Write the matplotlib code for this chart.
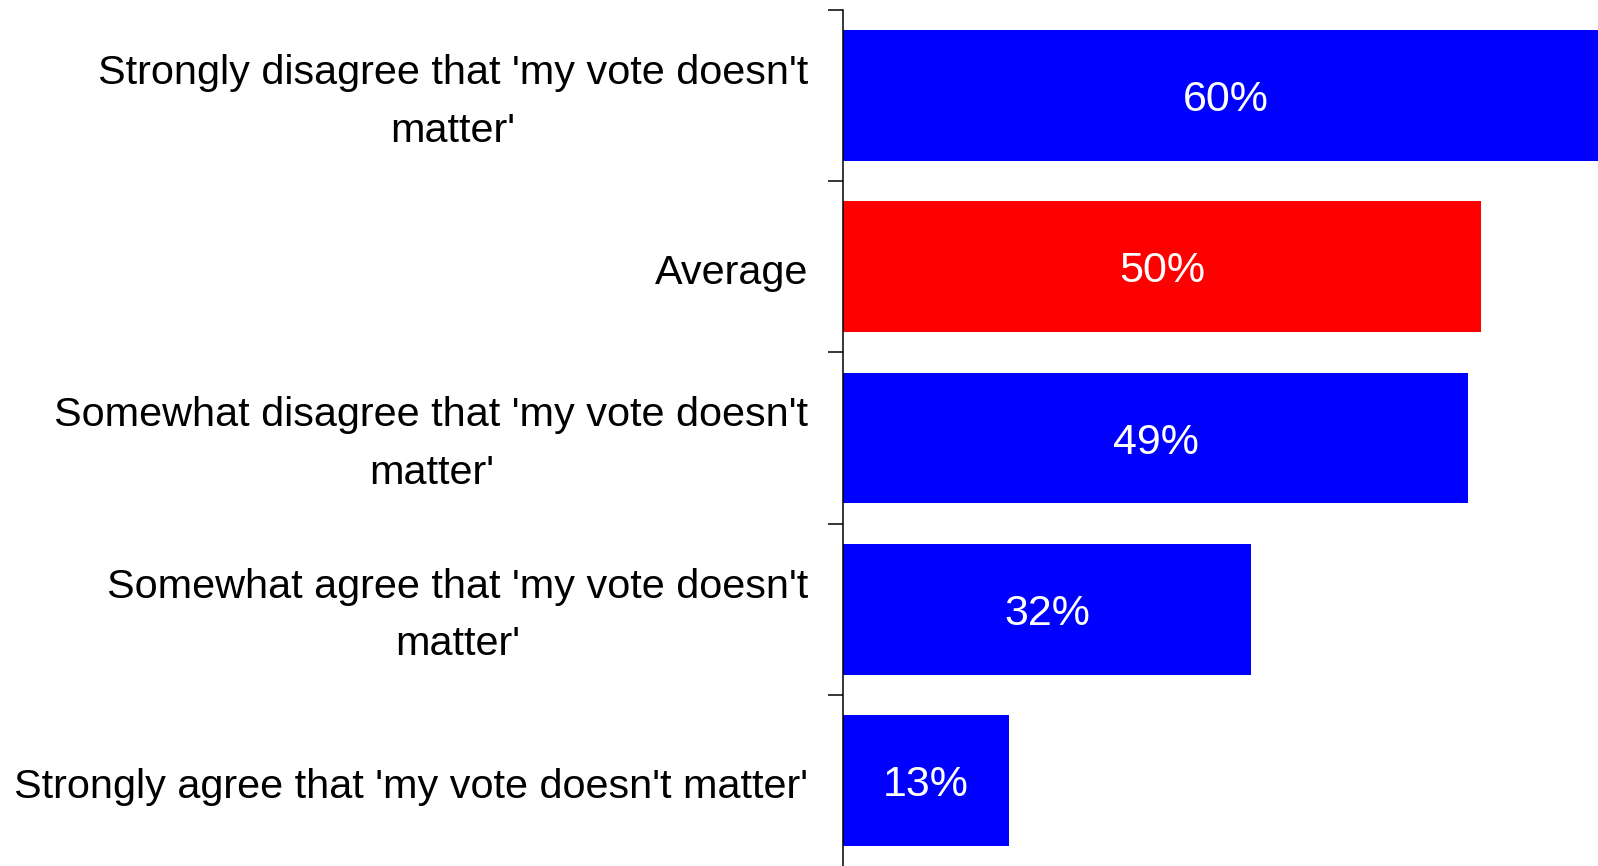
import matplotlib
matplotlib.use("Agg")
import matplotlib.pyplot as plt

plt.rcParams['font.family'] = ['Liberation Sans', 'DejaVu Sans']

# datos (de arriba a abajo)
categorias = [
    "Strongly disagree that 'my vote doesn't\nmatter'",
    "Average",
    "Somewhat disagree that 'my vote doesn't\nmatter'",
    "Somewhat agree that 'my vote doesn't\nmatter'",
    "Strongly agree that 'my vote doesn't matter'",
]
valores = [60, 50, 49, 32, 13]
etiquetas = ["60%", "50%", "49%", "32%", "13%"]
colores = ["#0000ff", "#ff0000", "#0000ff", "#0000ff", "#0000ff"]

fig = plt.figure(figsize=(15.98, 8.66), dpi=100)
ax = fig.add_axes([843 / 1598, 0.0, 1 - 843 / 1598, 1 - 10 / 866])

posiciones = list(range(len(categorias)))
ax.barh(posiciones, valores, height=0.765, color=colores)

for p, v, t in zip(posiciones, valores, etiquetas):
    ax.text(v / 2, p, t, color="white", fontsize=31, ha="center", va="center_baseline")

ax.set_xlim(0, 59.2)
ax.set_ylim(4.5, -0.5)

# ticks en los limites entre barras, etiquetas en el centro (un poco mas abajo)
ax.set_yticks([p - 0.5 for p in posiciones])
ax.set_yticklabels([])
ax.set_yticks([p + 0.036 for p in posiciones], minor=True)
ax.set_yticklabels(categorias, minor=True, fontsize=29.8, multialignment="center",
                   linespacing=1.65, va="center")
ax.tick_params(axis="y", which="major", length=10.5, width=1.1, color="black")
ax.tick_params(axis="y", which="minor", length=0, pad=25)
ax.set_xticks([])

for lado in ["top", "right", "bottom"]:
    ax.spines[lado].set_visible(False)
ax.spines["left"].set_linewidth(1.1)

fig.savefig("out.png", dpi=100)
